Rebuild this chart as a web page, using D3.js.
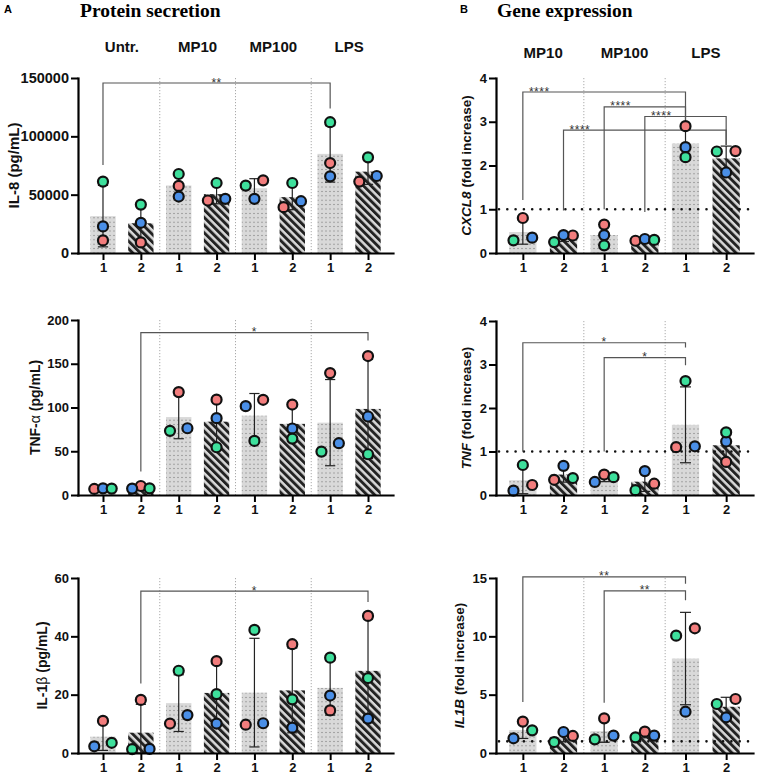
<!DOCTYPE html>
<html>
<head>
<meta charset="utf-8">
<script src="https://cdn.jsdelivr.net/npm/d3@7"></script>
<style>
  body { margin: 0; background: #fff; }
  text { font-family: Arial, "Liberation Sans", sans-serif; }
</style>
</head>
<body>
<div id="chart"></div>
<script>
// Categories
const groupsA = ["Untr.", "MP10", "MP100", "LPS"];
const groupsB = ["MP10", "MP100", "LPS"];
const catsA = ["1", "2", "1", "2", "1", "2", "1", "2"];
const catsB = ["1", "2", "1", "2", "1", "2"];

// Protein secretion, one array per donor (red, blue, green)
const il8Red   = [10800, 9100, 57500, 45000, 62300, 39300, 77100, 61200];
const il8Blue  = [22800, 25900, 48400, 46400, 46400, 44400, 65700, 66000];
const il8Green = [61200, 41500, 67700, 60000, 57800, 60000, 112100, 82000];

const tnfRed   = [6.9, 10.3, 117.6, 109, 108.8, 103.4, 139.3, 158.8];
const tnfBlue  = [7.6, 7.3, 76.3, 87.8, 101.5, 76, 59.2, 89.7];
const tnfGreen = [7.3, 7.6, 73.3, 54.6, 61.8, 64.5, 49.6, 46.6];

const il1bRed   = [11, 18.2, 10.1, 31.5, 9.7, 37.3, 14.6, 47];
const il1bBlue  = [2.3, 1.4, 13, 10.1, 10.2, 8.7, 19.7, 11.8];
const il1bGreen = [3.5, 1.3, 28.2, 20.2, 42.2, 18.4, 32.7, 25.7];

// Gene expression (fold increase)
const cxcl8Red   = [0.8, 0.40, 0.65, 0.28, 2.9, 2.33];
const cxcl8Blue  = [0.35, 0.41, 0.41, 0.32, 2.42, 1.84];
const cxcl8Green = [0.29, 0.25, 0.175, 0.30, 2.19, 2.32];

const tnfGeneRed   = [0.23, 0.35, 0.47, 0.26, 1.10, 0.76];
const tnfGeneBlue  = [0.10, 0.67, 0.30, 0.55, 1.12, 1.23];
const tnfGeneGreen = [0.69, 0.39, 0.41, 0.11, 2.62, 1.44];

const il1bGeneRed   = [2.69, 1.46, 2.97, 1.83, 10.69, 4.63];
const il1bGeneBlue  = [1.26, 1.8, 1.49, 1.49, 3.54, 3.06];
const il1bGeneGreen = [1.94, 0.94, 1.17, 1.34, 10.06, 4.2];

// Tick values
const ticksIL8 = [0, 50000, 100000, 150000];
const ticksTNF = [0, 50, 100, 150, 200];
const ticksIL1b = [0, 20, 40, 60];
const ticksFold4 = [0, 1, 2, 3, 4];
const ticksFold15 = [0, 5, 10, 15];

// Significance brackets (category indices, bracket level, leg ends, label)
const sigIL8 = [{ a: 0, b: 6, y: 145700, ya: 75400, yb: 123800, label: "**" }];
const sigTNF = [{ a: 1, b: 7, y: 185.5, ya: 27, yb: 176.7, label: "*" }];
const sigIL1b = [{ a: 1, b: 7, y: 55.5, ya: 23.8, yb: 51.8, label: "*" }];
const sigCXCL8 = [
    { a: 0, b: 4, y: 3.68, ya: 1.21, yb: 3.03, label: "****" },
    { a: 2, b: 4, y: 3.34, ya: 1.0, yb: 3.03, label: "****" },
    { a: 3, b: 5, y: 3.12, ya: 0.94, yb: 2.47, label: "****" },
    { a: 1, b: 5, y: 2.81, ya: 0.97, yb: 2.47, label: "****" }
];
const sigTNFGene = [
    { a: 0, b: 4, y: 3.5, ya: 1.0, yb: 3.39, label: "*" },
    { a: 2, b: 4, y: 3.16, ya: 1.0, yb: 2.98, label: "*" }
];
const sigIL1bGene = [
    { a: 0, b: 4, y: 15.1, ya: 4.37, yb: 14.5, label: "**" },
    { a: 2, b: 4, y: 13.9, ya: 4.3, yb: 13.1, label: "**" }
];

// Style constants
const STYLES = {
    donors: ["#f27d7d", "#4a8fe7", "#3ee09c"],
    bar: "#d9d9d9",
    bracket: "#555",
    sep: "#aaa"
};

const svg = d3.select("#chart")
    .append("svg")
    .attr("width", 758)
    .attr("height", 777)
    .style("background", "#fff");

// Bar fill patterns
const defs = svg.append("defs");
const dots = defs.append("pattern")
    .attr("id", "dots")
    .attr("patternUnits", "userSpaceOnUse")
    .attr("width", 4)
    .attr("height", 4.4);
dots.append("rect").attr("width", 4).attr("height", 4.4).attr("fill", STYLES.bar);
dots.append("rect").attr("x", 1.5).attr("y", 1.7).attr("width", 1).attr("height", 1).attr("fill", "#666");

const hatch = defs.append("pattern")
    .attr("id", "hatch")
    .attr("patternUnits", "userSpaceOnUse")
    .attr("width", 5.4)
    .attr("height", 10)
    .attr("patternTransform", "rotate(-45)");
hatch.append("rect").attr("width", 5.4).attr("height", 10).attr("fill", STYLES.bar);
hatch.append("rect").attr("width", 2.9).attr("height", 10).attr("fill", "#222");

// Panel layout
const panels = [
    { cats: catsA, groups: groupsA, series: [il8Red, il8Blue, il8Green], ticks: ticksIL8, max: 150000,
      sig: sigIL8, x0: 78, x1: 393, top: 78, bottom: 253, groupY: 52, tickFont: 14.5, titleFont: 15, titleGap: 2,
      title: [{ t: "IL-8 (pg/mL)" }] },
    { cats: catsA, series: [tnfRed, tnfBlue, tnfGreen], ticks: ticksTNF, max: 200,
      sig: sigTNF, x0: 78, x1: 393, top: 320, bottom: 495, tickFont: 13, titleFont: 14, titleGap: 7,
      title: [{ t: "TNF-" }, { t: "α", normal: true }, { t: " (pg/mL)" }] },
    { cats: catsA, series: [il1bRed, il1bBlue, il1bGreen], ticks: ticksIL1b, max: 60,
      sig: sigIL1b, x0: 78, x1: 393, top: 578, bottom: 753, tickFont: 13, titleFont: 14, titleGap: 8,
      title: [{ t: "IL-1" }, { t: "β", normal: true }, { t: " (pg/mL)" }] },
    { cats: catsB, groups: groupsB, series: [cxcl8Red, cxcl8Blue, cxcl8Green], ticks: ticksFold4, max: 4,
      sig: sigCXCL8, sigLeft: true, refLine: 1, x0: 496, x1: 753, top: 78, bottom: 253, groupY: 58,
      tickFont: 13, titleFont: 13.5, titleGap: 9,
      title: [{ t: "CXCL8", italic: true }, { t: " (fold increase)" }] },
    { cats: catsB, series: [tnfGeneRed, tnfGeneBlue, tnfGeneGreen], ticks: ticksFold4, max: 4,
      sig: sigTNFGene, refLine: 1, x0: 496, x1: 753, top: 321, bottom: 495,
      tickFont: 13, titleFont: 13.5, titleGap: 9,
      title: [{ t: "TNF", italic: true }, { t: " (fold increase)" }] },
    { cats: catsB, series: [il1bGeneRed, il1bGeneBlue, il1bGeneGreen], ticks: ticksFold15, max: 15,
      sig: sigIL1bGene, refLine: 1, x0: 496, x1: 753, top: 578, bottom: 753,
      tickFont: 13, titleFont: 13.5, titleGap: 9,
      title: [{ t: "IL1B", italic: true }, { t: " (fold increase)" }] }
];

// Spread overlapping points over three slots, like the original scatter
function placeSwarm(pts, thr) {
    const s = pts.slice().sort((a, b) => a.py - b.py);
    const clusters = [];
    let cur = [s[0]];
    for (let i = 1; i < s.length; i++) {
        if (s[i].py - s[i - 1].py < thr) cur.push(s[i]);
        else { clusters.push(cur); cur = [s[i]]; }
    }
    clusters.push(cur);
    clusters.forEach(c => {
        const asc = c.slice().sort((a, b) => a.v - b.v);
        if (asc.length === 1) asc[0].slot = 0;
        else if (asc.length === 2) { asc[0].slot = -1; asc[1].slot = 1; }
        else { asc[0].slot = -1; asc[1].slot = 1; asc[2].slot = 0; }
    });
}

function drawPanel(p) {
    const n = p.cats.length;
    const x = d3.scalePoint().domain(d3.range(n)).range([p.x0, p.x1]).padding(0.66);
    const y = d3.scaleLinear().domain([0, p.max]).range([p.bottom, p.top]);
    const step = x.step();
    const bw = step * 0.67;
    const slotW = step * 0.23;
    const capW = step * 0.27;
    const g = svg.append("g");

    // Dotted group separators
    for (let i = 2; i < n; i += 2) {
        g.append("line")
            .attr("x1", (x(i - 1) + x(i)) / 2).attr("x2", (x(i - 1) + x(i)) / 2)
            .attr("y1", y(p.max)).attr("y2", y(0))
            .attr("stroke", STYLES.sep)
            .attr("stroke-width", 1)
            .attr("stroke-dasharray", "1.2,1.8");
    }

    const stats = d3.range(n).map(i => {
        const vals = p.series.map(s => s[i]);
        const m = d3.mean(vals);
        const sd = d3.deviation(vals);
        return { i, mean: m, lo: Math.max(0, m - sd), hi: m + sd };
    });

    // Bars
    g.selectAll("rect.bar")
        .data(stats)
        .enter()
        .append("rect")
        .attr("class", "bar")
        .attr("x", d => x(d.i) - bw / 2)
        .attr("width", bw)
        .attr("y", d => y(d.mean))
        .attr("height", d => y(0) - y(d.mean))
        .attr("fill", d => d.i % 2 === 0 ? "url(#dots)" : "url(#hatch)");

    // Reference line at 1-fold
    if (p.refLine !== undefined) {
        g.append("line")
            .attr("x1", p.x0 + 3).attr("x2", p.x1)
            .attr("y1", y(p.refLine)).attr("y2", y(p.refLine))
            .attr("stroke", "#111")
            .attr("stroke-width", 2.6)
            .attr("stroke-linecap", "round")
            .attr("stroke-dasharray", "0,8.3");
    }

    // Error bars (mean ± SD)
    const eb = g.selectAll("g.err").data(stats).enter().append("g").attr("class", "err")
        .attr("stroke", "#222").attr("stroke-width", 1.2);
    eb.append("line").attr("x1", d => x(d.i)).attr("x2", d => x(d.i))
        .attr("y1", d => y(d.lo)).attr("y2", d => y(d.hi));
    eb.append("line").attr("x1", d => x(d.i) - capW / 2).attr("x2", d => x(d.i) + capW / 2)
        .attr("y1", d => y(d.hi)).attr("y2", d => y(d.hi));
    eb.append("line").attr("x1", d => x(d.i) - capW / 2).attr("x2", d => x(d.i) + capW / 2)
        .attr("y1", d => y(d.lo)).attr("y2", d => y(d.lo));

    // Significance brackets
    p.sig.forEach(s => {
        g.append("path")
            .attr("d", `M${x(s.a)},${y(s.ya)}V${y(s.y)}H${x(s.b)}V${y(s.yb)}`)
            .attr("fill", "none")
            .attr("stroke", STYLES.bracket)
            .attr("stroke-width", 1.2);
        g.append("text")
            .attr("x", p.sigLeft ? x(s.a) + step * 0.15 : (x(s.a) + x(s.b)) / 2)
            .attr("y", y(s.y) + 3.5)
            .attr("text-anchor", p.sigLeft ? "start" : "middle")
            .attr("font-size", 12)
            .attr("letter-spacing", 0.5)
            .attr("fill", "#333")
            .text(s.label);
    });

    // Donor points
    const pts = [];
    d3.range(n).forEach(i => {
        const cat = p.series.map((s, k) => ({ i, k, v: s[i], py: y(s[i]) }));
        placeSwarm(cat, 8.8);
        pts.push(...cat);
    });
    g.selectAll("circle.pt")
        .data(pts)
        .enter()
        .append("circle")
        .attr("class", "pt")
        .attr("cx", d => x(d.i) + d.slot * slotW)
        .attr("cy", d => d.py)
        .attr("r", 5)
        .attr("fill", d => STYLES.donors[d.k])
        .attr("stroke", "#111")
        .attr("stroke-width", 2.2);

    // Axes
    const yAxis = g.append("g")
        .attr("transform", `translate(${p.x0},0)`)
        .call(d3.axisLeft(y).tickValues(p.ticks).tickSize(7).tickSizeOuter(0).tickPadding(2).tickFormat(d3.format("d")));
    const xAxis = g.append("g")
        .attr("transform", `translate(0,${p.bottom})`)
        .call(d3.axisBottom(x).tickSize(7).tickSizeOuter(0).tickPadding(3).tickFormat(i => p.cats[i]));
    [yAxis, xAxis].forEach(a => {
        a.select(".domain").attr("stroke", "#000").attr("stroke-width", 2.2).attr("stroke-linecap", "square");
        a.selectAll(".tick line").attr("stroke", "#000").attr("stroke-width", 2);
        a.selectAll(".tick text")
            .attr("fill", "#111")
            .attr("font-weight", "bold");
    });
    yAxis.selectAll(".tick text").attr("font-size", p.tickFont);
    xAxis.selectAll(".tick text").attr("font-size", 13);

    // Y axis title
    const bb = yAxis.node().getBBox();
    const tx = p.x0 + bb.x - p.titleGap;
    const title = g.append("text")
        .attr("transform", `translate(${tx},${(p.top + p.bottom) / 2}) rotate(-90)`)
        .attr("text-anchor", "middle")
        .attr("font-size", p.titleFont)
        .attr("font-weight", "bold")
        .attr("fill", "#111");
    p.title.forEach(part => {
        title.append("tspan")
            .attr("font-style", part.italic ? "italic" : null)
            .attr("font-weight", part.normal ? "normal" : null)
            .text(part.t);
    });

    // Group labels
    if (p.groups) {
        g.selectAll("text.grp")
            .data(p.groups)
            .enter()
            .append("text")
            .attr("class", "grp")
            .attr("x", (d, j) => (x(2 * j) + x(2 * j + 1)) / 2)
            .attr("y", p.groupY)
            .attr("text-anchor", "middle")
            .attr("font-size", 15)
            .attr("font-weight", "bold")
            .attr("fill", "#111")
            .text(d => d);
    }
}

panels.forEach(drawPanel);

// Panel letters and headings
svg.append("text").attr("x", 4).attr("y", 13).attr("font-size", 11).attr("font-weight", "bold").text("A");
svg.append("text").attr("x", 460).attr("y", 13).attr("font-size", 11).attr("font-weight", "bold").text("B");
svg.append("text")
    .attr("x", 80).attr("y", 17)
    .style("font-family", "'Liberation Serif', 'Times New Roman', serif")
    .attr("font-size", 19.5).attr("font-weight", "bold")
    .text("Protein secretion");
svg.append("text")
    .attr("x", 497).attr("y", 17)
    .style("font-family", "'Liberation Serif', 'Times New Roman', serif")
    .attr("font-size", 19.5).attr("font-weight", "bold")
    .text("Gene expression");
</script>
</body>
</html>
